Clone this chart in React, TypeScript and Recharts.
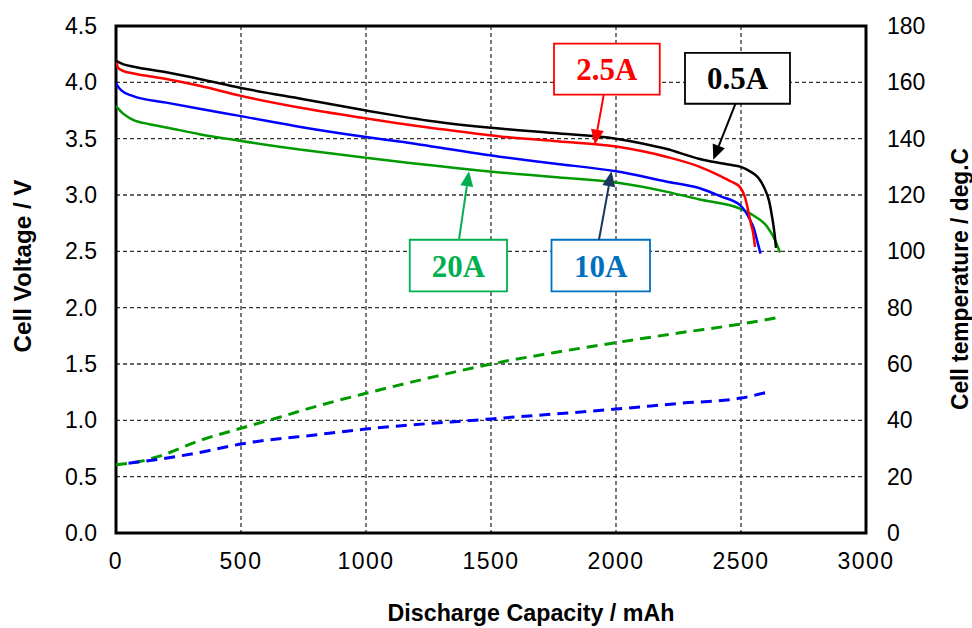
import React from 'react';
import { LineChart, Line, XAxis, YAxis, CartesianGrid, ReferenceArea, ReferenceLine, Label } from 'recharts';

// ---------- data ----------
const xTicks = [0, 500, 1000, 1500, 2000, 2500, 3000];
const vTicks = [0, 0.5, 1, 1.5, 2, 2.5, 3, 3.5, 4, 4.5];
const tTicks = [0, 20, 40, 60, 80, 100, 120, 140, 160, 180];

// 0.5A voltage
const cap05 = [0, 30, 66, 201, 334, 500, 750, 1000, 1133, 1250, 1535, 1750, 2000, 2100, 2200, 2335, 2400, 2450, 2500, 2536, 2570, 2596, 2612, 2624, 2634, 2640];
const volt05 = [4.19, 4.16, 4.14, 4.09, 4.03, 3.95, 3.85, 3.75, 3.70, 3.66, 3.59, 3.55, 3.50, 3.46, 3.41, 3.32, 3.29, 3.27, 3.25, 3.21, 3.15, 3.05, 2.95, 2.81, 2.66, 2.53];

// 2.5A voltage
const cap25 = [0, 8, 30, 66, 201, 334, 500, 750, 1000, 1133, 1250, 1535, 1750, 2000, 2200, 2335, 2416, 2460, 2496, 2516, 2528, 2540, 2548, 2556];
const volt25 = [4.20, 4.13, 4.10, 4.08, 4.03, 3.97, 3.88, 3.77, 3.68, 3.635, 3.60, 3.52, 3.48, 3.43, 3.34, 3.25, 3.17, 3.12, 3.07, 2.98, 2.87, 2.74, 2.67, 2.54];

// 10A voltage
const cap10 = [0, 20, 66, 201, 334, 500, 750, 1000, 1133, 1535, 1750, 2000, 2200, 2335, 2416, 2496, 2536, 2552, 2564, 2578];
const volt10 = [3.99, 3.93, 3.88, 3.82, 3.765, 3.70, 3.60, 3.515, 3.475, 3.34, 3.28, 3.21, 3.12, 3.06, 2.99, 2.91, 2.78, 2.70, 2.60, 2.48];

// 20A voltage
const cap20 = [0, 30, 66, 130, 201, 334, 500, 750, 1000, 1133, 1535, 1750, 2000, 2200, 2335, 2496, 2556, 2604, 2636, 2656];
const volt20 = [3.79, 3.72, 3.67, 3.63, 3.60, 3.54, 3.48, 3.40, 3.33, 3.295, 3.20, 3.16, 3.11, 3.03, 2.96, 2.88, 2.81, 2.72, 2.60, 2.49];

// 20A temperature
const capT20 = [0, 100, 174, 334, 500, 654, 814, 1000, 1250, 1500, 1750, 2000, 2250, 2500, 2663];
const temp20 = [24.2, 25.5, 27.3, 32.8, 37.2, 41.1, 45.3, 49.6, 55.0, 60.0, 64.0, 67.6, 71.0, 74.2, 76.7];

// 10A temperature
const capT10 = [50, 174, 334, 500, 814, 1000, 1500, 2000, 2250, 2500, 2602];
const temp10 = [24.8, 26.2, 28.6, 31.6, 35.0, 36.9, 40.5, 44.0, 46.0, 47.9, 49.9];

const zip = (xs: number[], ys: number[]) => xs.map((x, i) => ({ cap: x, val: ys[i] }));

const d05 = zip(cap05, volt05);
const d25 = zip(cap25, volt25);
const d10 = zip(cap10, volt10);
const d20 = zip(cap20, volt20);
const dT20 = zip(capT20, temp20);
const dT10 = zip(capT10, temp10);

// annotations: label, box (data coords), arrow from box to curve
const annotations = [
  { text: '2.5A', color: '#FF0000', arrow: '#FF0000', x1: 1752, x2: 2175, y1: 3.891, y2: 4.344, ax: 1951, ay: 3.891, tx: 1915, ty: 3.447 },
  { text: '0.5A', color: '#000000', arrow: '#000000', x1: 2276, x2: 2696, y1: 3.81, y2: 4.262, ax: 2478, ay: 3.81, tx: 2389, ty: 3.313 },
  { text: '20A', color: '#00B050', arrow: '#00B050', x1: 1175, x2: 1564, y1: 2.144, y2: 2.603, ax: 1372, ay: 2.603, tx: 1412, ty: 3.21 },
  { text: '10A', color: '#0070C0', arrow: '#17375E', x1: 1742, x2: 2136, y1: 2.144, y2: 2.603, ax: 1932, ay: 2.603, tx: 1982, ty: 3.21 },
];

const arrowShape = (color: string) => (props: any) => {
  const { x1, y1, x2, y2 } = props;
  const dx = x2 - x1;
  const dy = y2 - y1;
  const len = Math.sqrt(dx * dx + dy * dy) || 1;
  const ux = dx / len;
  const uy = dy / len;
  const hl = 15;
  const hw = 6.5;
  const bx = x2 - ux * hl;
  const by = y2 - uy * hl;
  const px = -uy;
  const py = ux;
  return (
    <g>
      <line x1={x1} y1={y1} x2={bx} y2={by} stroke={color} strokeWidth={2} />
      <polygon points={`${x2},${y2} ${bx + px * hw},${by + py * hw} ${bx - px * hw},${by - py * hw}`} fill={color} />
    </g>
  );
};

const boxLabel = (text: string, color: string) => (props: any) => {
  const vb = props.viewBox || {};
  const cx = vb.x + vb.width / 2;
  const cy = vb.y + vb.height / 2;
  return (
    <text x={cx} y={cy + 11} textAnchor="middle" fill={color} fontFamily="'Liberation Serif', 'Times New Roman', serif" fontWeight="bold" fontSize={31}>
      {text}
    </text>
  );
};

const titleFont = "'Liberation Sans', Arial, sans-serif";

const XTitle = () => (
  <text x={531} y={621} textAnchor="middle" fontFamily={titleFont} fontWeight="bold" fontSize={24} fill="#000" textLength={287} lengthAdjust="spacingAndGlyphs">
    Discharge Capacity / mAh
  </text>
);

const tickStyle = { fill: '#000', fontSize: 23, fontFamily: titleFont };

export default function App() {
  return (
    <div style={{ position: 'absolute', left: 0, top: 0, width: 972, height: 628, background: '#fff' }}>
      <LineChart width={972} height={628} margin={{ top: 26, right: 0, bottom: 0, left: 0 }}>
        <CartesianGrid stroke="#333" strokeDasharray="4 3" strokeWidth={1.3} />
        <XAxis
          dataKey="cap"
          type="number"
          domain={[0, 3000]}
          ticks={xTicks}
          height={95}
          axisLine={false}
          tickLine={false}
          tickSize={0}
          tickMargin={20}
          tick={{ ...tickStyle, letterSpacing: 1.5 }}
          interval={0}
          allowDataOverflow
        >
          <Label content={() => <XTitle />} />
        </XAxis>
        <YAxis
          type="number"
          domain={[0, 4.5]}
          ticks={vTicks}
          width={116}
          axisLine={false}
          tickLine={false}
          tickSize={0}
          tickMargin={19}
          tick={tickStyle}
          tickFormatter={(v: number) => v.toFixed(1)}
          interval={0}
          allowDataOverflow
        >
          <Label
            content={() => (
              <text x={31} y={266} transform="rotate(-90 31 266)" textAnchor="middle" fontFamily={titleFont} fontWeight="bold" fontSize={24} fill="#000" textLength={173} lengthAdjust="spacingAndGlyphs">
                Cell Voltage / V
              </text>
            )}
          />
        </YAxis>
        <YAxis
          yAxisId="right"
          orientation="right"
          type="number"
          domain={[0, 180]}
          ticks={tTicks}
          width={106}
          axisLine={false}
          tickLine={false}
          tickSize={0}
          tickMargin={21}
          tick={tickStyle}
          interval={0}
          allowDataOverflow
        >
          <Label
            content={() => (
              <text x={968} y={279} transform="rotate(-90 968 279)" textAnchor="middle" fontFamily={titleFont} fontWeight="bold" fontSize={24} fill="#000" textLength={262} lengthAdjust="spacingAndGlyphs">
                Cell temperature / deg.C
              </text>
            )}
          />
        </YAxis>

        <ReferenceArea x1={0} x2={3000} y1={0} y2={4.5} fill="none" stroke="#000" strokeWidth={3} ifOverflow="visible" />

        <Line data={dT20} dataKey="val" yAxisId="right" type="monotone" stroke="#009900" strokeWidth={3} strokeDasharray="11 7" dot={false} isAnimationActive={false} />
        <Line data={dT10} dataKey="val" yAxisId="right" type="monotone" stroke="#0000FF" strokeWidth={3} strokeDasharray="11 7" dot={false} isAnimationActive={false} />

        <Line data={d20} dataKey="val" type="monotone" stroke="#009900" strokeWidth={2.5} dot={false} isAnimationActive={false} />
        <Line data={d10} dataKey="val" type="monotone" stroke="#0000FF" strokeWidth={2.5} dot={false} isAnimationActive={false} />
        <Line data={d25} dataKey="val" type="monotone" stroke="#FF0000" strokeWidth={2.5} dot={false} isAnimationActive={false} />
        <Line data={d05} dataKey="val" type="monotone" stroke="#000000" strokeWidth={2.5} dot={false} isAnimationActive={false} />

        {annotations.map((a) => (
          <ReferenceArea
            key={a.text}
            x1={a.x1}
            x2={a.x2}
            y1={a.y1}
            y2={a.y2}
            fill="#fff"
            fillOpacity={1}
            stroke={a.color}
            strokeWidth={1.8}
            ifOverflow="visible"
            label={boxLabel(a.text, a.color)}
          />
        ))}
        {annotations.map((a) => (
          <ReferenceLine
            key={'arr' + a.text}
            segment={[{ x: a.ax, y: a.ay }, { x: a.tx, y: a.ty }]}
            stroke={a.arrow}
            ifOverflow="visible"
            shape={arrowShape(a.arrow)}
          />
        ))}
      </LineChart>
    </div>
  );
}
